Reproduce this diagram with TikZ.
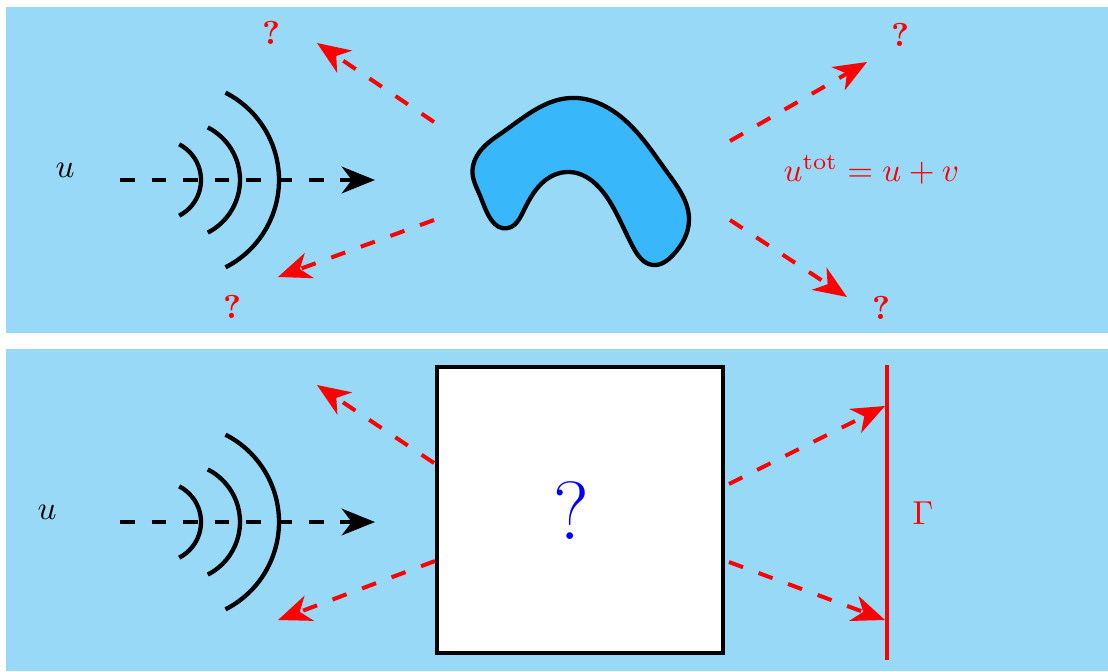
\documentclass[tikz,border=0pt]{standalone}
\usepackage{amsmath,amssymb}
\usepackage{xcolor}
\usepackage{tikz}
\usetikzlibrary{arrows.meta,positioning,hobby}

\definecolor{medium}{RGB}{152,217,248}
\definecolor{obstacle}{RGB}{56,184,250}

\begin{document}
\begin{tikzpicture}[
  x=0.53cm, y=0.53cm,
  panel/.style={fill=medium, draw=none},
  wave/.style={line width=1.3pt, black},
  inc/.style={-{Stealth[length=10pt,width=8pt,inset=3pt]}, line width=1.3pt, dash pattern=on 4.5pt off 5pt},
  scat/.style={-{Stealth[length=10pt,width=8pt,inset=3pt]}, line width=1.2pt, red, dash pattern=on 4.5pt off 5pt},
  qmark/.style={red, font=\bfseries, inner sep=0pt}
]
\useasboundingbox (0,0) rectangle (22.16,13.42);
\fill[panel] (0.12,6.76) rectangle (22.16,13.28);
\fill[panel] (0.12,0) rectangle (22.16,6.44);

% top: incident wave hits the obstacle
\node (utop) at (1.30,10.02) {$u$};
\coordinate (wA) at (2.40,9.82);
\coordinate (wB) at (7.50,9.82);
\draw[wave] (3.22,9.82) ++(-63:0.80) arc[start angle=-63, end angle=63, radius=0.80];
\draw[wave] (3.62,9.82) ++(-63:1.18) arc[start angle=-63, end angle=63, radius=1.18];
\draw[wave] (3.62,9.82) ++(-63:1.96) arc[start angle=-63, end angle=63, radius=1.96];
\draw[inc] (wA) -- (wB);

\draw[wave, fill=obstacle] plot[closed hobby] coordinates {
  (9.45,9.96) (9.62,10.42) (10.06,10.78) (11.40,11.46) (12.54,10.98) (13.34,9.98)
  (13.78,9.02) (13.46,8.32) (13.06,8.12) (12.66,8.48) (12.20,9.38)
  (11.40,9.98) (11.00,9.88) (10.46,9.18) (10.16,8.86) (9.62,9.46)};

\coordinate (s1) at (8.68,10.98);  \coordinate (t1) at (6.34,12.56);
\coordinate (s2) at (8.68,9.02);   \coordinate (t2) at (5.56,7.88);
\coordinate (s3) at (14.60,10.60); \coordinate (t3) at (17.34,12.18);
\coordinate (s4) at (14.60,9.02);  \coordinate (t4) at (16.94,7.48);
\draw[scat] (s1) -- (t1);
\draw[scat] (s2) -- (t2);
\draw[scat] (s3) -- (t3);
\draw[scat] (s4) -- (t4);
\node[qmark] (q1) at (5.42,12.76) {?};
\node[qmark] (q2) at (4.64,7.28) {?};
\node[qmark] (q3) at (18.00,12.72) {?};
\node[qmark] (q4) at (17.62,7.26) {?};
\node[red, inner sep=0pt, anchor=base west] (total) at (15.66,9.79) {$u^{\mathrm{tot}} = u + v$};

% bottom: unknown scatterer, data on Gamma
\node (ubot) at (0.94,3.18) {$u$};
\coordinate (wC) at (2.40,2.98);
\coordinate (wD) at (7.50,2.98);
\draw[wave] (3.22,2.98) ++(-63:0.80) arc[start angle=-63, end angle=63, radius=0.80];
\draw[wave] (3.62,2.98) ++(-63:1.18) arc[start angle=-63, end angle=63, radius=1.18];
\draw[wave] (3.62,2.98) ++(-63:1.96) arc[start angle=-63, end angle=63, radius=1.96];
\draw[inc] (wC) -- (wD);

\node[draw, line width=1.3pt, fill=white, minimum size=3.03cm, inner sep=0pt] (box) at (11.60,3.22) {};
\node[blue, inner sep=0pt] (unknown) at (11.42,3.20) {\Huge ?};

\coordinate (gtop) at (17.74,6.12);
\coordinate (gbot) at (17.74,0.22);
\draw[red, line width=1.3pt] (gtop) -- (gbot);
\node[red] (gamma) at (18.46,3.16) {$\Gamma$};

\coordinate (b1) at (8.68,4.16);  \coordinate (e1) at (6.34,5.72);
\coordinate (b2) at (8.70,2.20);  \coordinate (e2) at (5.56,1.02);
\coordinate (b3) at (14.58,3.74); \coordinate (e3) at (17.70,5.30);
\coordinate (b4) at (14.58,2.18); \coordinate (e4) at (17.70,1.02);
\draw[scat] (b1) -- (e1);
\draw[scat] (b2) -- (e2);
\draw[scat] (b3) -- (e3);
\draw[scat] (b4) -- (e4);
\end{tikzpicture}
\end{document}
